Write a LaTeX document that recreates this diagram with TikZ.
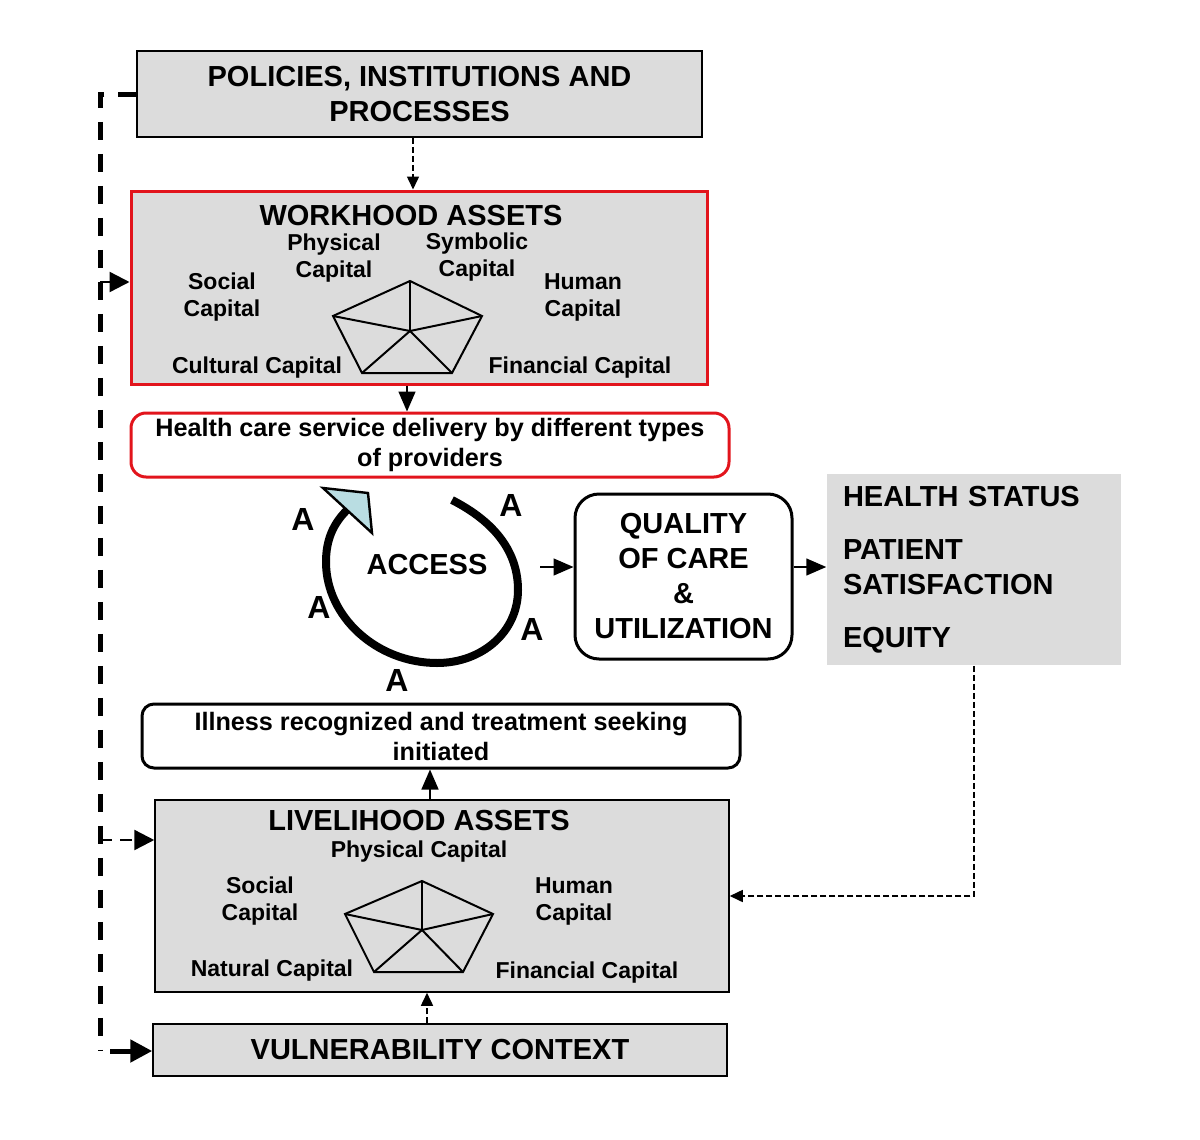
\documentclass[tikz,border=0pt]{standalone}
\usepackage{fontspec}
\setmainfont{Liberation Sans}
\usepackage{tikz}
\usetikzlibrary{arrows.meta}
\definecolor{boxgray}{HTML}{DCDCDC}
\definecolor{framered}{HTML}{E2141C}
\definecolor{tipblue}{HTML}{B9DDE2}

\begin{document}
\begin{tikzpicture}[x=0.5pt, y=-0.5pt, line width=0.75pt,
    titletext/.style={font=\fontsize{14.5}{17.5}\selectfont\bfseries},
    labeltext/.style={font=\fontsize{11.5}{13.5}\selectfont\bfseries},
    midtext/.style={font=\fontsize{12.6}{15}\selectfont\bfseries},
    lbl/.style={labeltext, inner sep=0pt, align=center},
    graybox/.style={draw, fill=boxgray, inner sep=0pt, align=center},
    redbox/.style={draw=framered, line width=1.5pt, fill=boxgray, inner sep=0pt},
    roundbox/.style={draw, line width=1.5pt, rounded corners=6pt, inner sep=0pt, align=center},
    arr/.style={-{Triangle[length=10pt,width=8.5pt]}},
    thindash/.style={dash pattern=on 3pt off 1.5pt, -{Triangle[length=6.5pt,width=6pt]}},
    loopdash/.style={line width=2.5pt, dash pattern=on 9pt off 7pt},
    branch/.style={line width=1.2pt, dash pattern=on 6pt off 4pt, -{Triangle[length=10pt,width=10pt]}}]

    \useasboundingbox (0,0) rectangle (1200,1140);

    % boxes
    \node[graybox, titletext, minimum width=282.5pt, minimum height=43pt] (policies) at (419.5,94) {POLICIES, INSTITUTIONS AND\\PROCESSES};
    \node[redbox, minimum width=288pt, minimum height=96.5pt] (workhood) at (419,287.5) {};
    \node[roundbox, draw=framered, midtext, rounded corners=7.5pt, minimum width=299pt, minimum height=32pt] (care) at (430,445) {Health care service delivery by different types\\of providers};
    \node[roundbox, titletext, rounded corners=12pt, minimum width=108.5pt, minimum height=82.5pt] (quality) at (683.5,576.5) {QUALITY\\OF CARE\\\&\\UTILIZATION};
    \node[fill=boxgray, titletext, align=left, text width=131pt, minimum width=147pt, minimum height=95.5pt, inner xsep=8pt, inner ysep=0pt] (status) at (974,569.5) {HEALTH STATUS\\[9pt]PATIENT\\SATISFACTION\\[9pt]EQUITY};
    \node[roundbox, midtext, minimum width=299pt, minimum height=32pt] (illness) at (441,736) {Illness recognized and treatment seeking\\initiated};
    \node[graybox, minimum width=287pt, minimum height=96pt] (livelihood) at (442,896) {};
    \node[graybox, titletext, minimum width=287pt, minimum height=26pt] (vuln) at (440,1050) {VULNERABILITY CONTEXT};

    % workhood assets
    \node[titletext, inner sep=0pt] (wtitle) at (411,216) {WORKHOOD ASSETS};
    \node[lbl] (wphys) at (334,258) {Physical\\Capital};
    \node[lbl] (wsymb) at (477,257) {Symbolic\\Capital};
    \node[lbl] (wsoc) at (222,297) {Social\\Capital};
    \node[lbl] (whum) at (583,297) {Human\\Capital};
    \node[lbl] (wcult) at (257,368) {Cultural Capital};
    \node[lbl] (wfin) at (580,368) {Financial Capital};
    \draw[line width=1pt] (410,281) -- (482,316) -- (452,373) -- (362,373) -- (333,316) -- cycle;
    \draw[line width=1pt] (410,331) -- (410,281);
    \draw[line width=1pt] (410,331) -- (482,316);
    \draw[line width=1pt] (410,331) -- (452,373);
    \draw[line width=1pt] (410,331) -- (362,373);
    \draw[line width=1pt] (410,331) -- (333,316);

    % livelihood assets
    \node[titletext, inner sep=0pt] (ltitle) at (419,821) {LIVELIHOOD ASSETS};
    \node[lbl] (lphys) at (419,852) {Physical Capital};
    \node[lbl] (lsoc) at (260,901) {Social\\Capital};
    \node[lbl] (lhum) at (574,901) {Human\\Capital};
    \node[lbl] (lnat) at (272,971) {Natural Capital};
    \node[lbl] (lfin) at (587,973) {Financial Capital};
    \draw[line width=1pt] (422,881) -- (493,914) -- (463,972) -- (374,972) -- (345,914) -- cycle;
    \draw[line width=1pt] (422,930) -- (422,881);
    \draw[line width=1pt] (422,930) -- (493,914);
    \draw[line width=1pt] (422,930) -- (463,972);
    \draw[line width=1pt] (422,930) -- (374,972);
    \draw[line width=1pt] (422,930) -- (345,914);

    % access cycle
    \draw[line width=4pt] (452,500) .. controls (495,522) and (518,552) .. (518,590)
        .. controls (518,632) and (482,663) .. (437,663)
        .. controls (377,663) and (326,617) .. (326,562)
        .. controls (326,540) and (333,524) .. (347,510);
    \draw[fill=tipblue, line width=1.2pt, line join=miter] (323,488) -- (368,493) -- (372,533) -- cycle;
    \node[titletext, inner sep=0pt] (access) at (427,565) {ACCESS};
    \node[font=\fontsize{16}{16}\selectfont\bfseries, inner sep=0pt] (anw) at (303,519) {A};
    \node[font=\fontsize{16}{16}\selectfont\bfseries, inner sep=0pt] (ane) at (511,505) {A};
    \node[font=\fontsize{16}{16}\selectfont\bfseries, inner sep=0pt] (aw) at (319,607) {A};
    \node[font=\fontsize{16}{16}\selectfont\bfseries, inner sep=0pt] (ae) at (532,629) {A};
    \node[font=\fontsize{16}{16}\selectfont\bfseries, inner sep=0pt] (as) at (397,680) {A};
    \coordinate (accout) at (540,567);

    % connectors
    \draw[thindash] ([xshift=-3.25pt]policies.south) -- ([xshift=-3.25pt]policies.south |- workhood.north);
    \draw[arr] ([xshift=-6pt]workhood.south) -- ([xshift=-6pt]workhood.south |- care.north);
    \draw[arr] (accout) -- (accout -| quality.west);
    \draw[arr] (accout -| quality.east) -- (accout -| status.west);
    \draw[thindash] (status.south) |- (livelihood.east);
    \draw[arr] ([xshift=-6pt]livelihood.north) -- ([xshift=-6pt]livelihood.north |- illness.south);
    \draw[thindash] ([xshift=-6.5pt]vuln.north) -- ([xshift=-6.5pt]vuln.north |- livelihood.south);

    % feedback on the left
    \coordinate (ltop) at (100,94);
    \coordinate (lbot) at (100,1051);
    \coordinate (lwork) at (100,282);
    \coordinate (llive) at (100,840);
    \draw[loopdash] (policies.west) -- (ltop) -- (lbot);
    \draw[line width=2.5pt, -{Triangle[length=11pt,width=11pt]}] ([xshift=5pt]lbot) -- (lbot -| vuln.west);
    \draw[branch] (lwork) -- (lwork -| workhood.west);
    \draw[branch] (llive) -- (llive -| livelihood.west);
\end{tikzpicture}
\end{document}
